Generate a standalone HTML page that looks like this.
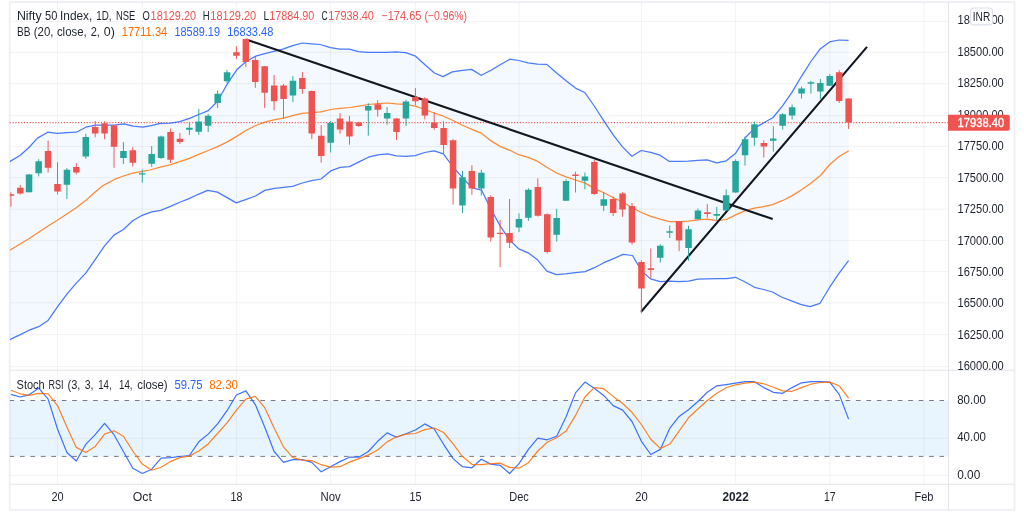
<!DOCTYPE html>
<html lang="en"><head><meta charset="utf-8"><title>Nifty 50 Index chart</title>
<style>
html,body{margin:0;padding:0;background:#fff;}
body{width:1024px;height:515px;overflow:hidden;position:relative;font-family:"Liberation Sans",sans-serif;}
svg{position:absolute;left:0;top:0;display:block;}
text{font-family:"Liberation Sans",sans-serif;font-size:12.4px;fill:#1e222d;}
.ax{fill:#131722;}
.r{fill:#ef5350;}.b{fill:#2962ff;}.o{fill:#ff6d00;}
</style></head><body>
<svg width="1024" height="515" viewBox="0 0 1024 515">
<rect x="0" y="0" width="1024" height="515" fill="#ffffff"/>
<defs><clipPath id="cm"><rect x="9.7" y="2" width="938.8" height="368.2"/></clipPath><clipPath id="cs"><rect x="9.7" y="370.2" width="938.8" height="114"/></clipPath></defs>
<rect x="9.7" y="2.05" width="1004.8" height="507.8" fill="none" stroke="#eef0f5" stroke-width="1.9"/>
<g clip-path="url(#cm)"><polygon points="9.7,161.6 20.3,155.3 28.9,147.5 37.5,138.1 47.7,132.2 57.3,133.4 66.9,132.7 76.4,132.2 85.8,127.2 95.5,125.2 104.8,125.2 114.4,125.2 123.8,123.8 133.3,126.1 142.7,127.2 151.2,125.6 160.2,123.4 170.3,123.1 179.7,121.6 189.4,118.4 198.8,114.5 208.3,110.6 217.7,101.0 227.3,83.9 236.7,69.8 246.4,61.2 255.8,56.1 265.6,53.4 275.0,51.1 283.6,48.8 292.7,45.6 302.3,43.0 311.7,43.8 320.3,44.5 330.5,47.7 339.8,49.2 349.2,49.2 358.6,51.6 368.0,52.3 377.7,52.3 386.7,52.3 396.1,51.9 405.8,52.7 415.6,56.2 425.0,64.7 434.4,73.0 443.0,76.6 452.3,71.9 462.5,70.3 471.6,69.4 481.2,75.3 491.1,70.3 500.2,64.7 509.8,59.2 518.9,60.5 528.1,62.8 537.5,64.1 546.9,64.4 556.6,73.0 566.1,80.8 575.5,88.1 584.8,92.5 594.6,106.5 604.0,121.1 613.4,135.2 622.5,146.9 631.9,156.2 641.2,150.5 650.7,152.3 660.0,155.2 669.4,161.4 678.8,161.4 688.3,161.2 697.7,160.4 707.2,159.9 716.7,162.9 726.2,160.8 735.7,153.2 745.5,137.5 754.8,127.9 763.9,122.8 773.1,117.5 782.5,105.8 791.9,92.4 801.5,76.3 810.9,61.5 820.2,48.9 829.5,41.9 838.9,40.0 848.6,40.4 848.6,260.6 838.8,273.6 829.4,287.7 820.0,303.3 810.0,306.7 800.6,304.4 790.8,300.6 781.4,297.0 772.5,292.0 763.4,289.5 754.5,287.3 745.5,282.3 735.6,277.3 726.6,278.6 716.9,278.6 707.5,278.9 698.0,279.2 688.6,281.2 678.9,281.7 669.5,281.2 660.2,281.7 650.5,278.9 641.4,270.7 632.5,255.5 623.0,254.4 613.6,258.6 603.9,262.7 594.5,267.7 585.2,271.6 575.5,272.7 565.6,273.9 556.2,274.7 546.9,271.1 537.5,259.8 528.1,252.8 518.8,248.9 509.8,240.3 500.3,226.2 490.7,208.6 481.6,190.2 472.0,187.8 462.5,177.7 453.1,167.0 443.4,153.8 434.1,150.9 424.7,152.5 415.3,155.6 405.8,156.4 396.4,155.9 387.5,153.8 378.1,154.8 368.4,157.2 359.1,161.9 349.5,166.6 340.2,167.3 330.7,170.9 321.1,179.0 311.7,180.6 302.3,183.0 292.6,186.3 283.8,187.3 274.4,188.4 264.8,190.4 255.5,196.0 245.7,199.6 236.3,202.9 227.1,197.6 217.4,192.1 207.6,190.4 198.4,194.3 189.0,198.6 179.3,202.5 170.5,206.4 160.7,210.3 151.7,211.8 142.2,215.3 132.8,220.8 123.4,229.5 114.0,235.1 104.6,245.9 95.2,259.6 85.8,273.1 76.3,283.1 66.9,294.1 57.5,306.9 48.1,320.4 38.7,326.7 29.2,330.2 19.8,334.9 9.8,339.6" fill="#2196f3" fill-opacity="0.055"/></g>
<rect x="9.7" y="400.5" width="938.8" height="55.9" fill="#2196f3" fill-opacity="0.1"/>
<path d="M57.5 2V484.2 M142.3 2V484.2 M236.4 2V484.2 M330.6 2V484.2 M415.4 2V484.2 M519.0 2V484.2 M641.4 2V484.2 M735.6 2V484.2 M829.8 2V484.2 M924.0 2V484.2 M9.7 21.4H948.5 M9.7 52.3H948.5 M9.7 83.7H948.5 M9.7 115.6H948.5 M9.7 146.4H948.5 M9.7 177.6H948.5 M9.7 209.2H948.5 M9.7 240.4H948.5 M9.7 271.6H948.5 M9.7 302.9H948.5 M9.7 334.7H948.5 M9.7 366.6H948.5 M9.7 438.3H948.5 M9.7 475.4H948.5" stroke="#2e3a38" stroke-opacity="0.06" stroke-width="1" fill="none"/>
<path d="M9.7 122.6H948.5" stroke="#ef5350" stroke-width="1.15" stroke-dasharray="1.1 1.75" fill="none"/>
<g clip-path="url(#cm)">
<polyline points="9.7,161.6 20.3,155.3 28.9,147.5 37.5,138.1 47.7,132.2 57.3,133.4 66.9,132.7 76.4,132.2 85.8,127.2 95.5,125.2 104.8,125.2 114.4,125.2 123.8,123.8 133.3,126.1 142.7,127.2 151.2,125.6 160.2,123.4 170.3,123.1 179.7,121.6 189.4,118.4 198.8,114.5 208.3,110.6 217.7,101.0 227.3,83.9 236.7,69.8 246.4,61.2 255.8,56.1 265.6,53.4 275.0,51.1 283.6,48.8 292.7,45.6 302.3,43.0 311.7,43.8 320.3,44.5 330.5,47.7 339.8,49.2 349.2,49.2 358.6,51.6 368.0,52.3 377.7,52.3 386.7,52.3 396.1,51.9 405.8,52.7 415.6,56.2 425.0,64.7 434.4,73.0 443.0,76.6 452.3,71.9 462.5,70.3 471.6,69.4 481.2,75.3 491.1,70.3 500.2,64.7 509.8,59.2 518.9,60.5 528.1,62.8 537.5,64.1 546.9,64.4 556.6,73.0 566.1,80.8 575.5,88.1 584.8,92.5 594.6,106.5 604.0,121.1 613.4,135.2 622.5,146.9 631.9,156.2 641.2,150.5 650.7,152.3 660.0,155.2 669.4,161.4 678.8,161.4 688.3,161.2 697.7,160.4 707.2,159.9 716.7,162.9 726.2,160.8 735.7,153.2 745.5,137.5 754.8,127.9 763.9,122.8 773.1,117.5 782.5,105.8 791.9,92.4 801.5,76.3 810.9,61.5 820.2,48.9 829.5,41.9 838.9,40.0 848.6,40.4" fill="none" stroke="#2962ff" stroke-width="1.25" stroke-linejoin="round" stroke-opacity="0.85"/>
<polyline points="9.8,339.6 19.8,334.9 29.2,330.2 38.7,326.7 48.1,320.4 57.5,306.9 66.9,294.1 76.3,283.1 85.8,273.1 95.2,259.6 104.6,245.9 114.0,235.1 123.4,229.5 132.8,220.8 142.2,215.3 151.7,211.8 160.7,210.3 170.5,206.4 179.3,202.5 189.0,198.6 198.4,194.3 207.6,190.4 217.4,192.1 227.1,197.6 236.3,202.9 245.7,199.6 255.5,196.0 264.8,190.4 274.4,188.4 283.8,187.3 292.6,186.3 302.3,183.0 311.7,180.6 321.1,179.0 330.7,170.9 340.2,167.3 349.5,166.6 359.1,161.9 368.4,157.2 378.1,154.8 387.5,153.8 396.4,155.9 405.8,156.4 415.3,155.6 424.7,152.5 434.1,150.9 443.4,153.8 453.1,167.0 462.5,177.7 472.0,187.8 481.6,190.2 490.7,208.6 500.3,226.2 509.8,240.3 518.8,248.9 528.1,252.8 537.5,259.8 546.9,271.1 556.2,274.7 565.6,273.9 575.5,272.7 585.2,271.6 594.5,267.7 603.9,262.7 613.6,258.6 623.0,254.4 632.5,255.5 641.4,270.7 650.5,278.9 660.2,281.7 669.5,281.2 678.9,281.7 688.6,281.2 698.0,279.2 707.5,278.9 716.9,278.6 726.6,278.6 735.6,277.3 745.5,282.3 754.5,287.3 763.4,289.5 772.5,292.0 781.4,297.0 790.8,300.6 800.6,304.4 810.0,306.7 820.0,303.3 829.4,287.7 838.8,273.6 848.6,260.6" fill="none" stroke="#2962ff" stroke-width="1.25" stroke-linejoin="round" stroke-opacity="0.85"/>
<polyline points="9.8,250.3 19.8,244.3 29.2,238.5 38.7,232.3 48.1,226.0 57.8,220.0 66.9,214.0 75.8,208.0 87.5,198.9 95.2,192.0 103.0,185.6 114.0,179.7 123.4,176.0 132.8,173.1 142.2,171.3 150.0,170.0 160.2,167.2 170.3,164.8 179.7,161.7 189.4,158.3 198.8,154.4 208.3,150.5 217.7,146.6 227.3,141.9 236.7,136.4 246.4,130.2 255.8,125.5 265.6,121.9 275.0,119.7 283.6,118.1 292.7,115.6 302.3,113.3 311.7,112.7 321.2,111.9 330.6,109.5 340.2,108.3 349.5,107.5 359.1,106.1 368.4,104.5 378.1,103.6 387.5,103.0 396.4,103.8 405.8,104.4 415.3,106.1 424.7,109.5 434.1,113.0 443.4,116.2 453.1,120.5 462.5,125.2 472.0,129.4 481.2,133.1 491.1,140.9 500.2,146.4 509.8,150.3 518.9,154.7 528.1,157.3 537.5,161.2 547.2,167.5 556.6,173.0 566.1,176.9 575.5,180.0 585.2,183.1 594.5,188.6 603.9,192.8 613.6,197.7 623.0,202.3 632.5,207.8 641.4,212.5 650.8,216.4 660.2,219.2 669.5,221.6 678.9,221.6 688.6,221.1 698.0,219.8 707.5,219.2 716.9,220.6 726.3,219.5 736.2,214.6 745.4,210.7 754.4,208.1 763.8,206.6 772.6,204.6 782.3,200.7 791.9,195.9 801.6,189.8 810.9,183.3 820.5,175.5 829.8,164.5 839.5,156.2 848.8,150.8" fill="none" stroke="#ff6d00" stroke-width="1.25" stroke-linejoin="round" stroke-opacity="0.8"/>
<path d="M246.4 39.5L772.7 219.1M641.1 311.7L867 46.9" stroke="#131722" stroke-width="2.1" stroke-linecap="butt" fill="none"/>
<path d="M29.0 174.0V192.5 M38.7 159.2V176.4 M66.9 168.1V198.9 M85.8 133.8V158.9 M123.4 142.0V163.9 M142.3 169.7V182.7 M151.7 146.0V166.8 M161.1 135.6V159.0 M189.4 122.8V134.8 M198.8 109.0V134.8 M208.2 113.8V132.0 M217.6 90.2V107.9 M227.0 69.8V83.1 M292.9 76.1V102.1 M330.6 120.8V152.5 M368.3 103.2V135.6 M387.1 107.0V124.7 M406.0 99.7V125.9 M462.5 170.9V213.0 M481.3 169.8V195.6 M519.0 213.4V232.0 M528.4 188.1V220.8 M556.7 208.8V241.6 M566.1 179.2V201.0 M584.9 172.5V189.4 M603.7 192.3V211.2 M660.3 244.2V262.5 M669.7 225.6V238.0 M688.5 225.8V260.6 M697.9 208.6V219.5 M716.8 206.8V220.0 M726.2 189.5V211.0 M735.6 159.4V192.6 M745.0 136.5V165.6 M754.4 121.7V145.8 M773.3 126.1V151.7 M782.7 113.1V129.6 M792.1 104.5V119.4 M801.5 86.6V98.6 M810.9 80.8V93.6 M820.4 79.0V99.0 M829.8 74.0V86.0" stroke="#26a69a" stroke-width="0.95" fill="none"/>
<path d="M10.9 192.3V206.7 M20.3 185.1V194.5 M48.1 140.5V172.5 M57.5 162.3V194.5 M76.3 163.1V174.4 M95.2 121.0V137.3 M104.6 121.2V139.2 M114.0 125.0V167.8 M132.8 147.0V166.6 M170.5 128.6V163.0 M179.9 133.0V143.9 M236.4 46.1V58.9 M245.9 38.6V67.0 M255.3 56.9V87.8 M264.7 66.0V107.9 M274.1 75.0V110.2 M283.5 83.9V118.4 M302.4 71.9V93.8 M311.8 90.5V138.9 M321.2 125.2V162.7 M340.0 113.1V133.8 M349.5 115.8V144.7 M358.9 121.7V127.0 M377.7 100.2V116.6 M396.5 118.0V140.0 M415.4 88.1V105.1 M424.8 97.3V119.4 M434.2 112.3V129.8 M443.6 121.2V153.8 M453.1 139.2V204.7 M471.9 165.2V194.8 M490.7 195.3V241.6 M500.1 220.0V267.3 M509.6 199.0V248.1 M537.8 178.4V216.5 M547.2 213.4V253.6 M575.5 171.7V192.5 M594.3 160.0V194.8 M613.2 196.9V216.1 M622.6 192.2V216.9 M632.0 203.0V244.5 M641.4 260.2V313.3 M650.8 248.4V278.5 M679.1 221.0V251.2 M707.3 203.9V217.8 M763.8 140.3V157.5 M839.2 70.2V103.0 M848.6 98.4V128.9" stroke="#ef5350" stroke-width="0.95" fill="none"/>
<path d="M25.8 174.5h6.5v17.8h-6.5z M35.4 161.2h6.5v12.1h-6.5z M63.7 169.7h6.5v15.0h-6.5z M82.5 136.9h6.5v19.5h-6.5z M120.2 151.0h6.5v7.0h-6.5z M139.0 173.3h6.5v1.1h-6.5z M148.4 154.0h6.5v9.7h-6.5z M157.8 136.6h6.5v21.4h-6.5z M186.1 127.8h6.5v1.9h-6.5z M195.5 121.6h6.5v10.1h-6.5z M204.9 115.8h6.5v10.0h-6.5z M214.4 93.8h6.5v9.2h-6.5z M223.8 72.2h6.5v9.0h-6.5z M289.7 80.8h6.5v14.8h-6.5z M327.4 123.1h6.5v19.7h-6.5z M365.0 106.1h6.5v4.5h-6.5z M383.9 113.1h6.5v5.3h-6.5z M402.7 101.4h6.5v17.0h-6.5z M459.2 177.3h6.5v28.2h-6.5z M478.1 172.7h6.5v15.9h-6.5z M515.7 218.9h6.5v8.6h-6.5z M525.1 189.8h6.5v27.9h-6.5z M553.4 218.1h6.5v16.7h-6.5z M562.8 181.1h6.5v19.6h-6.5z M581.7 176.4h6.5v4.4h-6.5z M600.5 199.2h6.5v6.5h-6.5z M657.0 245.8h6.5v12.0h-6.5z M666.4 231.2h6.5v1.6h-6.5z M685.3 229.2h6.5v18.8h-6.5z M694.7 210.6h6.5v8.6h-6.5z M713.5 214.1h6.5v1.7h-6.5z M722.9 195.3h6.5v15.1h-6.5z M732.3 161.0h6.5v31.4h-6.5z M741.8 139.2h6.5v16.1h-6.5z M751.2 124.3h6.5v13.5h-6.5z M770.0 138.6h6.5v2.2h-6.5z M779.4 114.2h6.5v11.5h-6.5z M788.9 107.3h6.5v8.2h-6.5z M798.3 88.4h6.5v5.2h-6.5z M807.7 82.3h6.5v1.5h-6.5z M817.1 83.0h6.5v8.6h-6.5z M826.5 75.9h6.5v9.9h-6.5z" fill="#26a69a"/>
<path d="M7.7 194.2h6.5v1.6h-6.5z M17.1 187.8h6.5v5.6h-6.5z M44.8 150.9h6.5v16.9h-6.5z M54.2 184.1h6.5v7.3h-6.5z M73.1 167.0h6.5v5.5h-6.5z M91.9 126.9h6.5v6.5h-6.5z M101.3 123.3h6.5v10.1h-6.5z M110.8 125.6h6.5v21.1h-6.5z M129.6 150.2h6.5v12.5h-6.5z M167.3 132.0h6.5v27.8h-6.5z M176.7 138.8h6.5v3.2h-6.5z M233.2 52.3h6.5v3.5h-6.5z M242.6 39.0h6.5v23.0h-6.5z M252.0 60.0h6.5v22.0h-6.5z M261.4 66.2h6.5v26.5h-6.5z M270.9 85.5h6.5v15.7h-6.5z M280.3 85.5h6.5v13.6h-6.5z M299.1 78.0h6.5v10.9h-6.5z M308.5 91.1h6.5v42.3h-6.5z M318.0 135.8h6.5v20.3h-6.5z M336.8 118.6h6.5v10.9h-6.5z M346.2 121.6h6.5v14.8h-6.5z M355.6 122.5h6.5v3.4h-6.5z M374.5 104.2h6.5v5.6h-6.5z M393.3 118.6h6.5v13.3h-6.5z M412.1 97.1h6.5v4.1h-6.5z M421.6 98.5h6.5v17.0h-6.5z M431.0 122.5h6.5v5.5h-6.5z M440.4 128.0h6.5v17.0h-6.5z M449.8 140.2h6.5v48.4h-6.5z M468.6 170.9h6.5v17.7h-6.5z M487.5 197.0h6.5v40.5h-6.5z M496.9 232.8h6.5v1.2h-6.5z M506.3 233.0h6.5v9.7h-6.5z M534.6 187.0h6.5v28.8h-6.5z M544.0 214.2h6.5v37.8h-6.5z M572.2 174.5h6.5v1.6h-6.5z M591.1 162.0h6.5v32.0h-6.5z M609.9 198.9h6.5v14.1h-6.5z M619.3 193.4h6.5v16.0h-6.5z M628.7 205.9h6.5v36.6h-6.5z M638.2 262.0h6.5v26.6h-6.5z M647.6 268.3h6.5v1.7h-6.5z M675.8 221.3h6.5v19.3h-6.5z M704.1 212.2h6.5v1.7h-6.5z M760.6 143.1h6.5v3.5h-6.5z M835.9 72.2h6.5v28.9h-6.5z M845.4 98.4h6.5v24.1h-6.5z" fill="#ef5350"/>
</g>
<g clip-path="url(#cs)">
<path d="M9.5 400.5H944M9.5 456.4H944" stroke="#787b86" stroke-width="1" stroke-dasharray="4.7 5.75" fill="none"/>
<polyline points="10.9,394.4 20.3,397.0 29.0,394.8 38.7,388.2 48.1,399.1 57.5,429.0 66.9,452.5 76.3,461.0 85.8,444.3 95.2,434.7 104.6,423.3 114.0,434.7 123.4,451.5 132.8,468.2 142.3,473.5 151.7,469.2 161.1,458.2 170.5,457.6 179.9,456.5 189.4,455.5 198.8,441.8 208.2,434.1 217.6,423.9 227.0,410.7 236.4,395.0 245.9,390.9 255.3,404.6 264.7,427.0 274.1,451.5 283.5,462.3 292.9,459.6 302.4,459.6 311.8,462.3 321.2,471.8 330.6,466.7 340.0,461.6 349.5,457.2 358.9,457.2 368.3,451.5 377.7,441.3 387.1,432.9 396.5,437.2 406.0,433.7 415.4,430.0 424.8,423.9 434.2,429.0 443.6,444.3 453.1,458.6 462.5,466.7 471.9,467.8 481.3,459.2 490.7,464.1 500.1,465.3 509.6,473.5 519.0,463.7 528.4,449.4 537.8,438.2 547.2,439.8 556.7,436.2 566.1,416.8 575.5,392.9 584.9,382.1 594.3,388.2 603.7,395.4 613.2,405.6 622.6,410.1 632.0,421.5 641.4,441.3 650.8,454.5 660.3,449.4 669.7,428.4 679.1,416.4 688.5,409.7 697.9,401.5 707.3,392.3 716.8,385.8 726.2,384.6 735.6,383.2 745.0,381.7 754.4,381.7 763.8,387.6 773.3,392.3 782.7,393.3 792.1,387.6 801.5,382.8 810.9,381.7 820.4,381.7 829.8,382.1 839.2,394.4 848.6,419.1" fill="none" stroke="#2962ff" stroke-width="1.2" stroke-linejoin="round" stroke-opacity="0.9"/>
<polyline points="10.9,390.3 20.3,393.8 29.0,395.4 38.7,393.3 48.1,393.8 57.5,405.6 66.9,427.0 76.3,447.4 85.8,452.5 95.2,446.4 104.6,434.1 114.0,430.7 123.4,436.2 132.8,451.0 142.3,464.1 151.7,470.2 161.1,467.2 170.5,461.6 179.9,457.6 189.4,456.1 198.8,451.0 208.2,443.9 217.6,433.5 227.0,422.9 236.4,410.1 245.9,399.1 255.3,396.4 264.7,407.6 274.1,428.0 283.5,446.8 292.9,457.6 302.4,460.2 311.8,460.6 321.2,464.7 330.6,467.2 340.0,466.7 349.5,462.1 358.9,458.6 368.3,455.1 377.7,450.0 387.1,441.9 396.5,436.8 406.0,434.1 415.4,433.5 424.8,429.6 434.2,428.0 443.6,432.5 453.1,443.9 462.5,456.5 471.9,464.3 481.3,464.7 490.7,463.7 500.1,463.1 509.6,467.4 519.0,468.2 528.4,462.7 537.8,451.0 547.2,442.3 556.7,437.8 566.1,431.1 575.5,415.4 584.9,397.0 594.3,387.6 603.7,388.7 613.2,396.4 622.6,403.5 632.0,412.3 641.4,424.5 650.8,439.2 660.3,448.4 669.7,444.3 679.1,431.1 688.5,417.8 697.9,409.0 707.3,400.5 716.8,393.3 726.2,387.8 735.6,384.8 745.0,383.2 754.4,382.1 763.8,383.8 773.3,387.2 782.7,390.9 792.1,391.3 801.5,387.6 810.9,384.2 820.4,382.5 829.8,382.1 839.2,385.8 848.6,398.2" fill="none" stroke="#ff6d00" stroke-width="1.2" stroke-linejoin="round" stroke-opacity="0.85"/>
</g>
<path d="M9.7 370.2H1014.5M9.7 484.25H1014.5M948.5 2V509.8" stroke="#e3e4e8" stroke-width="1" fill="none"/>
<text x="957.5" y="24.2" textLength="46.3" lengthAdjust="spacingAndGlyphs">18750.00</text>
<text x="957.5" y="55.6" textLength="46.3" lengthAdjust="spacingAndGlyphs">18500.00</text>
<text x="957.5" y="87.1" textLength="46.3" lengthAdjust="spacingAndGlyphs">18250.00</text>
<text x="957.5" y="118.6" textLength="46.3" lengthAdjust="spacingAndGlyphs">18000.00</text>
<text x="957.5" y="150.1" textLength="46.3" lengthAdjust="spacingAndGlyphs">17750.00</text>
<text x="957.5" y="181.5" textLength="46.3" lengthAdjust="spacingAndGlyphs">17500.00</text>
<text x="957.5" y="213.0" textLength="46.3" lengthAdjust="spacingAndGlyphs">17250.00</text>
<text x="957.5" y="244.5" textLength="46.3" lengthAdjust="spacingAndGlyphs">17000.00</text>
<text x="957.5" y="275.9" textLength="46.3" lengthAdjust="spacingAndGlyphs">16750.00</text>
<text x="957.5" y="307.4" textLength="46.3" lengthAdjust="spacingAndGlyphs">16500.00</text>
<text x="957.5" y="338.9" textLength="46.3" lengthAdjust="spacingAndGlyphs">16250.00</text>
<text x="957.5" y="369.5" textLength="46.3" lengthAdjust="spacingAndGlyphs">16000.00</text>
<text x="957.2" y="404.4" textLength="28.7" lengthAdjust="spacingAndGlyphs">80.00</text>
<text x="957.2" y="441.3" textLength="28.7" lengthAdjust="spacingAndGlyphs">40.00</text>
<text x="957.2" y="478.6" textLength="23.1" lengthAdjust="spacingAndGlyphs">0.00</text>
<rect x="970.5" y="8.0" width="22.0" height="16.9" rx="3.2" fill="#ffffff" stroke="#dde0e9" stroke-width="1.1"/>
<text x="972.8" y="20.6" textLength="17.4" lengthAdjust="spacingAndGlyphs">INR</text>
<path d="M948 114.7H1007.8a2 2 0 0 1 2 2V128.7a2 2 0 0 1 -2 2H948z" fill="#ef5350"/>
<text x="957.5" y="126.7" textLength="46.8" lengthAdjust="spacingAndGlyphs" style="fill:#ffffff;stroke:#ffffff;stroke-width:0.35px">17938.40</text>
<text x="57.5" y="501.2" textLength="12.2" lengthAdjust="spacingAndGlyphs" text-anchor="middle">20</text>
<text x="142.3" y="501.2" textLength="19.1" lengthAdjust="spacingAndGlyphs" text-anchor="middle">Oct</text>
<text x="236.4" y="501.2" textLength="12.0" lengthAdjust="spacingAndGlyphs" text-anchor="middle">18</text>
<text x="330.6" y="501.2" textLength="20.2" lengthAdjust="spacingAndGlyphs" text-anchor="middle">Nov</text>
<text x="415.4" y="501.2" textLength="12.0" lengthAdjust="spacingAndGlyphs" text-anchor="middle">15</text>
<text x="519.0" y="501.2" textLength="19.5" lengthAdjust="spacingAndGlyphs" text-anchor="middle">Dec</text>
<text x="641.4" y="501.2" textLength="12.5" lengthAdjust="spacingAndGlyphs" text-anchor="middle">20</text>
<text x="735.6" y="501.2" textLength="26.2" lengthAdjust="spacingAndGlyphs" text-anchor="middle" style="font-weight:bold">2022</text>
<text x="829.8" y="501.2" textLength="11.6" lengthAdjust="spacingAndGlyphs" text-anchor="middle">17</text>
<text x="924.0" y="501.2" textLength="19.0" lengthAdjust="spacingAndGlyphs" text-anchor="middle">Feb</text>
<text x="16.9" y="19.6" textLength="24.8" lengthAdjust="spacingAndGlyphs">Nifty</text>
<text x="45.0" y="19.6" textLength="12.3" lengthAdjust="spacingAndGlyphs">50</text>
<text x="60.0" y="19.6" textLength="32.3" lengthAdjust="spacingAndGlyphs">Index,</text>
<text x="96.3" y="19.6" textLength="15.3" lengthAdjust="spacingAndGlyphs">1D,</text>
<text x="115.9" y="19.6" textLength="19.3" lengthAdjust="spacingAndGlyphs">NSE</text>
<text x="142.4" y="19.6" textLength="7.3" lengthAdjust="spacingAndGlyphs">O</text>
<text x="202.8" y="19.6" textLength="6.9" lengthAdjust="spacingAndGlyphs">H</text>
<text x="263.4" y="19.6" textLength="5.7" lengthAdjust="spacingAndGlyphs">L</text>
<text x="321.5" y="19.6" textLength="6.2" lengthAdjust="spacingAndGlyphs">C</text>
<text x="150.6" y="19.6" class="r" textLength="45.5" lengthAdjust="spacingAndGlyphs">18129.20</text>
<text x="210.3" y="19.6" class="r" textLength="45.9" lengthAdjust="spacingAndGlyphs">18129.20</text>
<text x="269.2" y="19.6" class="r" textLength="45.1" lengthAdjust="spacingAndGlyphs">17884.90</text>
<text x="328.3" y="19.6" class="r" textLength="45.5" lengthAdjust="spacingAndGlyphs">17938.40</text>
<text x="381.3" y="19.6" class="r" textLength="40.1" lengthAdjust="spacingAndGlyphs">−174.65</text>
<text x="424.4" y="19.6" class="r" textLength="42.7" lengthAdjust="spacingAndGlyphs">(−0.96%)</text>
<text x="16.9" y="35.7" textLength="13.5" lengthAdjust="spacingAndGlyphs">BB</text>
<text x="33.8" y="35.7" textLength="19.7" lengthAdjust="spacingAndGlyphs">(20,</text>
<text x="56.9" y="35.7" textLength="29.8" lengthAdjust="spacingAndGlyphs">close,</text>
<text x="90.7" y="35.7" textLength="9.2" lengthAdjust="spacingAndGlyphs">2,</text>
<text x="103.8" y="35.7" textLength="11.0" lengthAdjust="spacingAndGlyphs">0)</text>
<text x="121.7" y="35.7" class="o" textLength="45.6" lengthAdjust="spacingAndGlyphs">17711.34</text>
<text x="174.4" y="35.7" class="b" textLength="45.6" lengthAdjust="spacingAndGlyphs">18589.19</text>
<text x="227.2" y="35.7" class="b" textLength="46.1" lengthAdjust="spacingAndGlyphs">16833.48</text>
<text x="16.6" y="388.9" textLength="28.1" lengthAdjust="spacingAndGlyphs">Stoch</text>
<text x="48.4" y="388.9" textLength="15.1" lengthAdjust="spacingAndGlyphs">RSI</text>
<text x="67.5" y="388.9" textLength="12.9" lengthAdjust="spacingAndGlyphs">(3,</text>
<text x="84.7" y="388.9" textLength="8.8" lengthAdjust="spacingAndGlyphs">3,</text>
<text x="98.2" y="388.9" textLength="13.5" lengthAdjust="spacingAndGlyphs">14,</text>
<text x="119.0" y="388.9" textLength="13.5" lengthAdjust="spacingAndGlyphs">14,</text>
<text x="137.2" y="388.9" textLength="30.5" lengthAdjust="spacingAndGlyphs">close)</text>
<text x="174.4" y="388.9" class="b" textLength="28.1" lengthAdjust="spacingAndGlyphs">59.75</text>
<text x="209.2" y="388.9" class="o" textLength="28.8" lengthAdjust="spacingAndGlyphs">82.30</text>
</svg>
</body></html>
